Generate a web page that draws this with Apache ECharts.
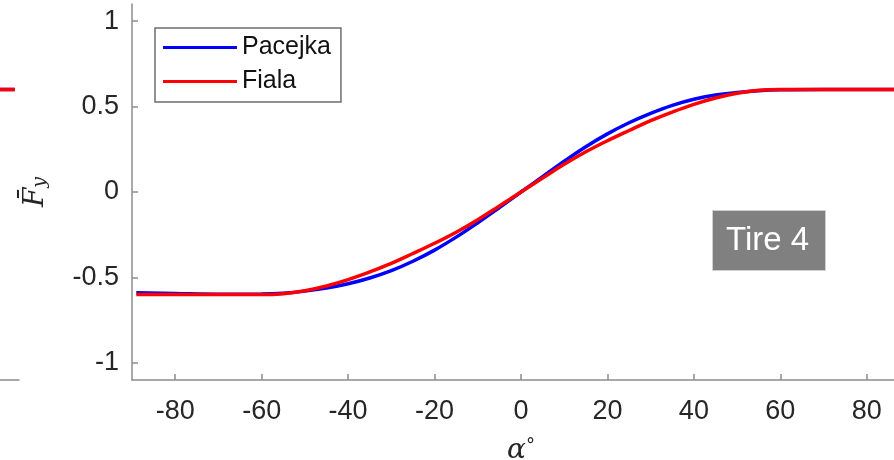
<!DOCTYPE html>
<html>
<head>
<meta charset="utf-8">
<script src="https://cdn.jsdelivr.net/npm/echarts@6/dist/echarts.min.js"></script>
<style>
  html, body { margin: 0; padding: 0; background: #fff; }
  #chart { width: 894px; height: 460px; }
</style>
</head>
<body>
<div id="chart"></div>
<script>
// slip angle (deg) and normalised lateral force
const alpha = [-89, -80, -70, -60, -55, -50, -45, -40, -35, -30, -25, -20, -15, -10, -5, 0,
  5, 10, 15, 20, 25, 30, 35, 40, 45, 50, 55, 60, 70, 80, 89]
const pacejka = [-0.59, -0.594, -0.598, -0.597, -0.592, -0.58, -0.562, -0.537, -0.503, -0.46, -0.405, -0.34, -0.264, -0.18, -0.091, 0,
  0.09, 0.18, 0.265, 0.34, 0.405, 0.46, 0.507, 0.543, 0.567, 0.582, 0.593, 0.598, 0.6, 0.6, 0.6]
const fiala = [-0.6, -0.6, -0.6, -0.6, -0.595, -0.578, -0.55, -0.513, -0.468, -0.418, -0.36, -0.3, -0.235, -0.162, -0.082, 0,
  0.082, 0.162, 0.235, 0.3, 0.36, 0.418, 0.468, 0.513, 0.55, 0.578, 0.595, 0.6, 0.6, 0.6, 0.6]

// tail of the neighbouring subplot, cut off at the left edge
const prevAlpha = [80, 85, 89]
const prevPacejka = [0.6, 0.6, 0.6]
const prevFiala = [0.6, 0.6, 0.6]

const xTicks = [-80, -60, -40, -20, 0, 20, 40, 60, 80]
const yTicks = [-1, -0.5, 0, 0.5, 1]

const axisGrey = '#8c8c8c'
const labelColor = '#262626'

const pairs = (xs, ys) => xs.map((x, i) => [x, ys[i]])

const chart = echarts.init(document.getElementById('chart'))

const xAxisBase = {
  type: 'value',
  min: -90,
  max: 90,
  axisLine: { onZero: false, lineStyle: { color: axisGrey, width: 1.5 } },
  axisTick: { inside: true, length: 6, customValues: xTicks, lineStyle: { color: axisGrey, width: 1.5 } },
  axisLabel: { customValues: xTicks, color: labelColor, fontSize: 27, fontFamily: 'Liberation Sans', margin: 18 },
  splitLine: { show: false },
}
const yAxisBase = {
  type: 'value',
  min: -1.1,
  max: 1.1,
  axisLine: { show: true, onZero: false, lineStyle: { color: axisGrey, width: 1.5 } },
  axisTick: { show: true, inside: true, length: 6, customValues: yTicks, lineStyle: { color: axisGrey, width: 1.5 } },
  axisLabel: { customValues: yTicks, color: labelColor, fontSize: 27, fontFamily: 'Liberation Sans', margin: 13 },
  splitLine: { show: false },
}

chart.setOption({
  animation: false,
  backgroundColor: '#fff',
  title: {
    text: 'Tire 4',
    left: 712,
    top: 210,
    backgroundColor: '#808080',
    borderColor: '#d0d0d0',
    borderWidth: 1,
    padding: [14, 17, 14, 14],
    textStyle: { color: '#fff', fontSize: 33, fontWeight: 'normal', fontFamily: 'Liberation Sans' },
  },
  legend: {
    data: ['Pacejka', 'Fiala'],
    orient: 'vertical',
    left: 155,
    top: 28,
    padding: [7, 10, 8, 8],
    itemGap: 9,
    itemWidth: 74,
    itemHeight: 3,
    icon: 'rect',
    borderColor: '#6e6e6e',
    borderWidth: 1.5,
    textStyle: { color: '#111', fontSize: 25, fontFamily: 'Liberation Sans' },
  },
  grid: [
    { left: 132, top: 4, width: 778, bottom: 80, outerBoundsMode: 'none' },
    { left: -759, top: 4, width: 778, bottom: 80, outerBoundsMode: 'none' },
  ],
  xAxis: [
    {
      ...xAxisBase,
      gridIndex: 0,
      name: '{a|α}{d|°}',
      nameLocation: 'middle',
      nameGap: 57,
      nameTextStyle: {
        rich: {
          a: { fontSize: 28, fontStyle: 'italic', fontFamily: 'DejaVu Serif', color: labelColor },
          d: { fontSize: 18, fontFamily: 'DejaVu Serif', color: labelColor, verticalAlign: 'top' },
        },
      },
    },
    { ...xAxisBase, gridIndex: 1 },
  ],
  yAxis: [
    {
      ...yAxisBase,
      gridIndex: 0,
      name: '{f|F\u0304}{s|y}',
      nameLocation: 'middle',
      nameRotate: 90,
      nameGap: 82,
      nameTextStyle: {
        rich: {
          f: { fontSize: 28, fontStyle: 'italic', fontFamily: 'DejaVu Serif', color: labelColor },
          s: { fontSize: 19, fontStyle: 'italic', fontFamily: 'DejaVu Serif', color: labelColor, verticalAlign: 'bottom' },
        },
      },
    },
    { ...yAxisBase, gridIndex: 1 },
  ],
  series: [
    {
      name: 'Pacejka', type: 'line', xAxisIndex: 0, yAxisIndex: 0,
      data: pairs(alpha, pacejka), smooth: 0.4, showSymbol: false,
      lineStyle: { color: '#0000ff', width: 3.5 }, itemStyle: { color: '#0000ff' },
    },
    {
      name: 'Fiala', type: 'line', xAxisIndex: 0, yAxisIndex: 0,
      data: pairs(alpha, fiala), smooth: 0.4, showSymbol: false,
      lineStyle: { color: '#ff0000', width: 3.5 }, itemStyle: { color: '#ff0000' },
    },
    {
      name: 'prevPacejka', type: 'line', xAxisIndex: 1, yAxisIndex: 1,
      data: pairs(prevAlpha, prevPacejka), showSymbol: false,
      lineStyle: { color: '#0000ff', width: 3.5 },
    },
    {
      name: 'prevFiala', type: 'line', xAxisIndex: 1, yAxisIndex: 1,
      data: pairs(prevAlpha, prevFiala), showSymbol: false,
      lineStyle: { color: '#ff0000', width: 3.5 },
    },
  ],
})
</script>
</body>
</html>
